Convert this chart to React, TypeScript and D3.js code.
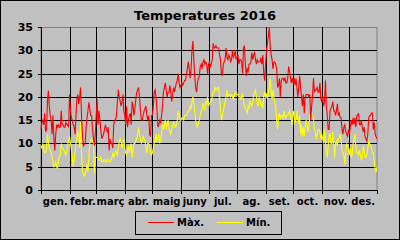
import React from "react";
import * as d3 from "d3";

const monthLabels = ["gen.", "febr.", "març", "abr.", "maig", "juny", "jul.", "ag.", "set.", "oct.", "nov.", "des."];
const monthDays = [31, 29, 31, 30, 31, 30, 31, 31, 30, 31, 30, 31];
const yTicks = [0, 5, 10, 15, 20, 25, 30, 35];

const maxJan = [13, 14.5, 15, 14, 16.5, 12.5, 13, 19, 21.3, 18, 16, 15, 12, 16, 11, 8.5, 12, 14, 13.5, 14, 13.5, 13.5, 17, 14, 14, 13.5, 13.5, 14.5, 14, 14, 13.5];
const maxFeb = [20.5, 17, 15.5, 15, 14, 13.5, 12, 16, 19.5, 20.5, 18.5, 20, 22, 16, 12, 9.5, 9.8, 10, 13.5, 15.5, 17, 18.8, 17.5, 16, 16, 13, 11, 9.5, 12];
const maxMar = [16, 19.5, 14, 17, 15, 13, 11, 11.5, 12, 13, 14, 13, 12.5, 13.5, 8.5, 11, 10, 10, 9, 14, 15, 15, 16, 19, 21.5, 20, 19, 18, 19, 20.5, 17];
const maxApr = [16, 14, 18, 13.5, 15, 16, 16.5, 14, 19, 18, 16, 17.5, 19.5, 21, 21.5, 22, 20, 17, 15, 15, 16, 17, 17.5, 18, 16, 15, 16, 12, 11.5, 16];
const maxMay = [16, 18, 21, 21.5, 20, 17, 13.5, 14, 15, 14.5, 16, 18, 21, 22, 23, 21.5, 20, 21, 21, 22.5, 21, 19, 20.5, 22, 21, 22, 23, 23.5, 25, 23, 22];
const maxJun = [22.5, 23, 22.5, 23, 23.5, 23.5, 25, 26, 27.5, 26, 24, 26, 30, 32, 28, 24.5, 22, 21, 23, 24, 24.5, 26.5, 27, 26, 27.5, 28, 27, 27.5, 27, 25];
const maxJul = [27, 27.5, 26.5, 27, 28, 31.5, 30.5, 30.5, 31, 30.5, 30.5, 30.5, 29, 28, 25, 24.5, 27, 27.5, 28, 30.5, 28.5, 28, 29, 28.5, 27.5, 28, 30, 28.5, 29, 30, 28];
const maxAug = [28.5, 29, 27, 28, 28, 27.5, 25, 30.5, 31, 27, 24.5, 26, 25.5, 27, 27, 27.5, 29.5, 28, 29, 29.5, 28, 27, 28, 27.5, 27.5, 27.5, 28.5, 27, 29, 25, 23.5];
const maxSep = [27, 30, 31.5, 33, 35, 31, 29, 28, 26, 27.5, 27.5, 27, 26, 22, 22.5, 24, 20, 23.5, 24, 24, 23.5, 24, 23, 23, 24, 26.5, 25.5, 24, 23, 24];
const maxOct = [23, 24, 22.5, 24, 22, 20, 22, 24.5, 22, 20, 18, 20.5, 16.5, 20, 20.5, 20.5, 20.5, 20, 20.5, 15, 18, 20.5, 24, 21, 21.5, 21.5, 22, 21, 21, 23, 19.5];
const maxNov = [19, 20, 18, 19, 23.5, 18, 16, 13, 13, 17, 17.5, 18, 19, 17, 17, 16, 17, 18.5, 16, 16.5, 15.5, 15.5, 13, 12, 13.5, 14, 12.5, 12, 11.5, 13];
const maxDec = [12, 13.5, 15, 14, 15.5, 14, 15.5, 13.5, 16, 16, 16.5, 14, 14, 15, 13.5, 12.5, 13.5, 11.5, 11, 10.5, 12, 15.5, 16, 16, 16.5, 16.5, 13, 14.5, 12, 11.5, 11];

const minJan = [9.5, 9, 10, 8.5, 8, 8, 9, 12, 10.5, 9, 8.5, 8, 7, 6, 5, 5.5, 6, 5, 4.5, 6.5, 7, 7.5, 10, 9, 9, 8.5, 8, 7.5, 8, 9.5, 11];
const minFeb = [11.5, 10, 8.5, 7, 5, 6.5, 8, 10, 11, 12.5, 12, 9, 14.5, 8, 4, 3.5, 3, 3.5, 4, 5.5, 4, 7, 10, 10.5, 11, 10.5, 10, 3.5, 7];
const minMar = [7, 7, 7, 6.5, 6.5, 7, 6, 6, 6.5, 6.5, 6, 6, 6.5, 6.5, 6, 6, 6.5, 7, 8, 7, 7.5, 8.5, 8, 7.5, 9, 10.5, 11, 10.5, 9, 10, 11];
const minApr = [9, 8, 7.5, 8.5, 9.5, 8, 9, 10, 7, 9, 10, 10, 10.5, 11, 12, 13.5, 12, 11, 10, 10.5, 11.5, 11, 10.5, 9, 8, 10, 10, 9.5, 8, 7.5];
const minMay = [8, 9, 10, 11, 12, 10.5, 11, 12, 10, 11, 12, 14, 13, 14, 15, 13, 14, 15, 13.5, 12.5, 12, 13, 14, 14.5, 13.5, 13.5, 14, 15, 17, 16, 15];
const minJun = [15, 15.5, 15.5, 15, 16, 16, 16, 16.5, 17, 17, 18, 17.5, 19, 20, 18.5, 17, 15, 14, 13.5, 14.5, 15, 16, 17, 17.5, 18.5, 18, 17, 19, 18.5, 20];
const minJul = [18, 18.5, 19, 19, 20, 21, 21, 22, 21.5, 21.5, 22, 22, 20, 17, 15, 16, 17, 18, 19, 20, 21.5, 20, 20.5, 20.5, 20, 20.5, 20, 19.5, 20.5, 21, 21];
const minAug = [20.5, 20.5, 20, 20, 19.5, 20, 20.5, 19, 18, 17.5, 17, 16.5, 18, 17.5, 19, 18.5, 18, 19, 20.5, 21, 21.5, 20, 18.5, 18, 20, 19, 18, 19, 17.5, 20, 21];
const minSep = [20, 20.5, 19.5, 21, 22, 24, 21, 19.5, 21.5, 20, 18.5, 18, 15, 13, 15.5, 16.5, 15.5, 16, 16, 15.5, 17, 16, 15.5, 16, 16, 16.5, 17, 16, 15, 14];
const minOct = [17, 16, 14.5, 15, 17, 15, 14.5, 16, 12, 14, 11.5, 13.5, 11.5, 13.5, 15, 14, 12.5, 14, 15.5, 17, 16.5, 16, 15.5, 13, 12.5, 11, 12, 13, 13, 12.5, 11];
const minNov = [12, 11, 10, 13, 10.5, 8, 7, 9.5, 12, 12, 10, 10, 12.5, 10, 7, 10, 10.5, 9.5, 11, 11, 12, 11, 8.5, 8, 7.5, 5.5, 8, 10, 9.5, 9];
const minDec = [7.5, 9, 7, 7.5, 10, 11, 12, 9.5, 8, 8, 7.5, 8.5, 7.5, 6.5, 7, 9.5, 8.5, 7, 7, 7.5, 9, 10.5, 10, 9.5, 9, 8, 8, 6, 4.5, 3.8, 5];

const maxTemps = [maxJan, maxFeb, maxMar, maxApr, maxMay, maxJun, maxJul, maxAug, maxSep, maxOct, maxNov, maxDec].flat();
const minTemps = [minJan, minFeb, minMar, minApr, minMay, minJun, minJul, minAug, minSep, minOct, minNov, minDec].flat();

const W = 400;
const H = 240;
const L = 41, R = 377, T = 27, B = 190;
const FONT = "'DejaVu Sans', Verdana, sans-serif";

export default function App() {
  const nDays = maxTemps.length;
  const x = d3.scaleLinear().domain([0, nDays - 1]).range([L, R]);
  const y = d3.scaleLinear().domain([0, 35]).range([B, T]);
  const line = d3.line<number>().x((_, i) => x(i)).y((d) => y(d));

  const starts: number[] = [];
  let acc = 0;
  monthDays.forEach((d) => { starts.push(acc); acc += d; });
  const boundaries = [...starts, acc - 1];

  return (
    <svg width={W} height={H} style={{ position: "fixed", left: 0, top: 0, display: "block" }}>
      <rect x={0} y={0} width={W} height={H} fill="#C0C0C0" />
      <rect x={0.5} y={0.5} width={W - 1} height={H - 1} fill="none" stroke="#000" />
      <text x={205} y={20} textAnchor="middle" fontFamily={FONT} fontWeight="bold" fontSize={13} fill="#000">
        Temperatures 2016
      </text>
      {/* plot border */}
      <rect x={L} y={T + 0.5} width={R - L} height={B - T} fill="none" stroke="#808080" />
      {/* horizontal grid */}
      {yTicks.filter((t) => t > 0 && t < 35).map((t) => (
        <line key={"h" + t} x1={L} x2={R} y1={Math.round(y(t)) + 0.5} y2={Math.round(y(t)) + 0.5} stroke="#000" />
      ))}
      {/* vertical grid */}
      {starts.slice(1).map((s) => (
        <line key={"v" + s} x1={Math.round(x(s)) + 0.5} x2={Math.round(x(s)) + 0.5} y1={T} y2={B} stroke="#000" />
      ))}
      {/* axes */}
      <line x1={L + 0.5} x2={L + 0.5} y1={T} y2={B + 0.5} stroke="#000" />
      <line x1={L} x2={R} y1={B + 0.5} y2={B + 0.5} stroke="#000" />
      {yTicks.map((t) => (
        <g key={"yt" + t}>
          <line x1={L - 3} x2={L} y1={Math.round(y(t)) + 0.5} y2={Math.round(y(t)) + 0.5} stroke="#000" />
          <text x={33} y={y(t) + 4} textAnchor="end" fontFamily={FONT} fontWeight="bold" fontSize={11} fill="#000">
            {t}
          </text>
        </g>
      ))}
      {boundaries.map((s, i) => (
        <line key={"xt" + i} x1={Math.round(x(s)) + 0.5} x2={Math.round(x(s)) + 0.5} y1={B} y2={B + 4} stroke="#000" />
      ))}
      {monthLabels.map((m, i) => (
        <text key={m} x={(x(boundaries[i]) + x(boundaries[i + 1])) / 2} y={205} textAnchor="middle"
          fontFamily={FONT} fontWeight="bold" fontSize={10} fill="#000">
          {m}
        </text>
      ))}
      <path d={line(minTemps) || ""} fill="none" stroke="#FFFF00" strokeWidth={1.1} />
      <path d={line(maxTemps) || ""} fill="none" stroke="#FF0000" strokeWidth={1.1} />
      {/* legend */}
      <rect x={135.5} y={211.5} width={146} height={23} fill="#C0C0C0" stroke="#000" />
      <line x1={148} x2={174} y1={222.5} y2={222.5} stroke="#FF0000" />
      <text x={177} y={226} fontFamily={FONT} fontWeight="bold" fontSize={10} fill="#000">Màx.</text>
      <line x1={217} x2={243} y1={222.5} y2={222.5} stroke="#FFFF00" />
      <text x={246} y={226} fontFamily={FONT} fontWeight="bold" fontSize={10} fill="#000">Mín.</text>
    </svg>
  );
}
